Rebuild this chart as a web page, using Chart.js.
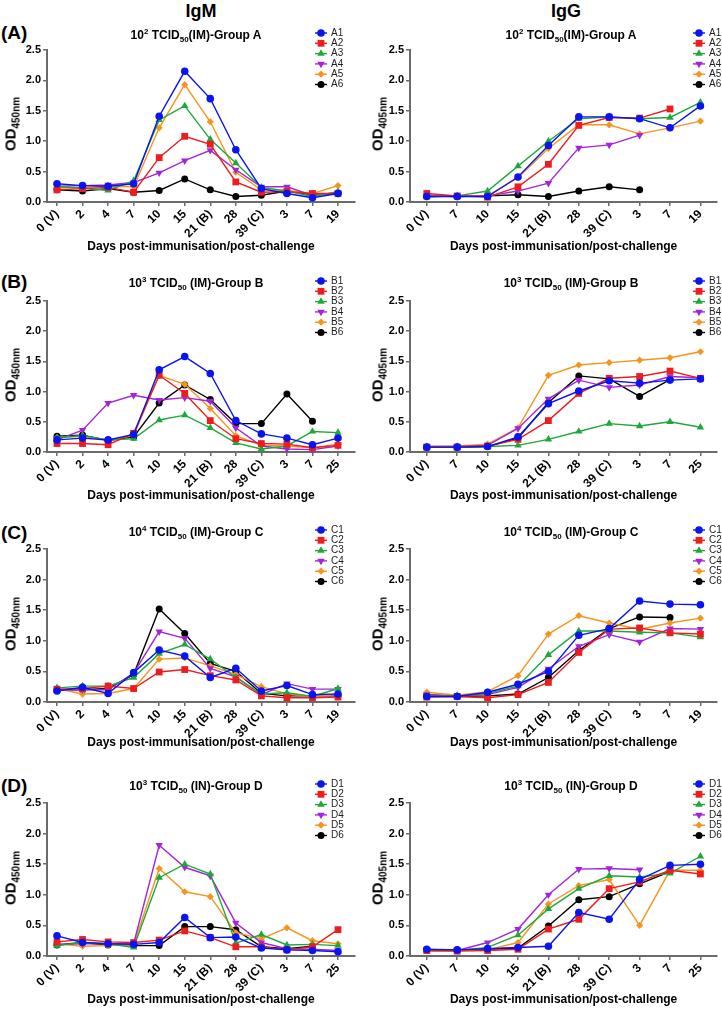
<!DOCTYPE html>
<html>
<head>
<meta charset="utf-8">
<script src="https://cdn.jsdelivr.net/npm/chart.js@4.4.0/dist/chart.umd.min.js"></script>
<style>
body { margin: 0; background: #fff; width: 722px; height: 1009px; position: relative; overflow: hidden;
       font-family: "Liberation Sans", Arial, sans-serif; }
canvas { position: absolute; }
.txt { position: absolute; font-weight: bold; white-space: nowrap; color: #000; transform: translate(-50%, -50%); line-height: 1; }
.txt sup, .txt sub { font-size: 8px; line-height: 0; }
.head { font-size: 18px; }
.tag { font-size: 19px; transform: translate(0, -50%); }
.ptitle { font-size: 12px; }
.od { font-size: 15px; transform: translate(-50%, -50%) rotate(-90deg); }
.od sub { font-size: 10px; }
</style>
</head>
<body>
<script>
// tick labels (days)
var daysIgM_AC = ['0 (V)', '2', '4', '7', '10', '15', '21 (B)', '28', '39 (C)', '3', '7', '19'];
var daysIgM_BD = ['0 (V)', '2', '4', '7', '10', '15', '21 (B)', '28', '39 (C)', '3', '7', '25'];
var daysIgG_AC = ['0 (V)', '7', '10', '15', '21 (B)', '28', '39 (C)', '3', '7', '19'];
var daysIgG_BD = ['0 (V)', '7', '10', '15', '21 (B)', '28', '39 (C)', '3', '7', '25'];
var yTicks = [0, 0.5, 1.0, 1.5, 2.0, 2.5];

var namesA = ['A1', 'A2', 'A3', 'A4', 'A5', 'A6'];
var namesB = ['B1', 'B2', 'B3', 'B4', 'B5', 'B6'];
var namesC = ['C1', 'C2', 'C3', 'C4', 'C5', 'C6'];
var namesD = ['D1', 'D2', 'D3', 'D4', 'D5', 'D6'];

// Group A
var igmA1 = [0.30, 0.27, 0.26, 0.30, 1.41, 2.15, 1.70, 0.86, 0.22, 0.14, 0.07, 0.14];
var igmA2 = [0.20, 0.22, 0.24, 0.16, 0.73, 1.08, 0.95, 0.33, 0.16, 0.17, 0.14, 0.14];
var igmA3 = [0.25, 0.23, 0.19, 0.35, 1.35, 1.58, 1.03, 0.64, 0.24, 0.18, 0.09, 0.17];
var igmA4 = [0.26, 0.27, 0.28, 0.32, 0.48, 0.68, 0.85, 0.53, 0.25, 0.25, 0.11, 0.14];
var igmA5 = [0.23, 0.24, 0.26, 0.25, 1.22, 1.93, 1.32, 0.49, 0.20, 0.19, 0.14, 0.27];
var igmA6 = [0.20, 0.18, 0.22, 0.16, 0.19, 0.38, 0.20, 0.09, 0.11, 0.18, 0.12, 0.15];

var iggA1 = [0.09, 0.09, 0.09, 0.41, 0.93, 1.40, 1.40, 1.37, 1.22, 1.58];
var iggA2 = [0.14, 0.10, 0.08, 0.25, 0.62, 1.26, 1.39, 1.38, 1.53, null];
var iggA3 = [0.08, 0.10, 0.18, 0.59, 1.00, 1.37, 1.40, 1.37, 1.39, 1.64];
var iggA4 = [0.10, 0.09, 0.10, 0.18, 0.31, 0.89, 0.94, 1.10, null, null];
var iggA5 = [0.11, 0.10, 0.10, 0.40, 0.88, 1.27, 1.27, 1.12, 1.22, 1.33];
var iggA6 = [0.10, 0.09, 0.10, 0.12, 0.09, 0.18, 0.25, 0.20, null, null];

// Group B
var igmB1 = [0.20, 0.23, 0.20, 0.29, 1.36, 1.58, 1.30, 0.52, 0.30, 0.23, 0.12, 0.23];
var igmB2 = [0.14, 0.14, 0.12, 0.31, 1.27, 0.97, 0.52, 0.22, 0.14, 0.13, 0.07, 0.11];
var igmB3 = [0.24, 0.27, 0.20, 0.22, 0.53, 0.61, 0.40, 0.15, 0.05, 0.10, 0.34, 0.32];
var igmB4 = [0.20, 0.36, 0.81, 0.94, 0.86, 0.90, 0.84, 0.40, 0.10, 0.05, 0.04, 0.10];
var igmB5 = [0.24, 0.26, 0.20, 0.27, 1.27, 1.12, 0.72, 0.27, 0.11, 0.10, 0.07, 0.13];
var igmB6 = [0.26, 0.28, 0.19, 0.25, 0.81, 1.11, 0.87, 0.47, 0.47, 0.96, 0.51, null];

var iggB1 = [0.08, 0.08, 0.09, 0.25, 0.80, 1.01, 1.18, 1.14, 1.19, 1.21];
var iggB2 = [0.08, 0.08, 0.10, 0.21, 0.52, 0.97, 1.22, 1.25, 1.34, 1.22];
var iggB3 = [0.08, 0.08, 0.09, 0.11, 0.21, 0.34, 0.47, 0.43, 0.50, 0.41];
var iggB4 = [0.09, 0.09, 0.11, 0.39, 0.88, 1.19, 1.07, 1.11, 1.25, 1.23];
var iggB5 = [0.09, 0.10, 0.13, 0.40, 1.27, 1.44, 1.48, 1.52, 1.56, 1.66];
var iggB6 = [0.08, 0.08, 0.09, 0.23, 0.82, 1.26, 1.21, 0.92, 1.20, null];

// Group C
var igmC1 = [0.18, 0.24, 0.14, 0.48, 0.85, 0.75, 0.40, 0.55, 0.18, 0.27, 0.12, 0.13];
var igmC2 = [0.21, 0.22, 0.26, 0.22, 0.49, 0.53, 0.43, 0.36, 0.10, 0.07, 0.07, 0.08];
var igmC3 = [0.23, 0.26, 0.26, 0.40, 0.79, 0.94, 0.70, 0.40, 0.13, 0.15, 0.09, 0.22];
var igmC4 = [0.20, 0.20, 0.20, 0.47, 1.15, 1.04, 0.55, 0.41, 0.12, 0.30, 0.21, 0.21];
var igmC5 = [0.22, 0.13, 0.14, 0.22, 0.70, 0.72, 0.59, 0.45, 0.25, 0.13, 0.09, 0.12];
var igmC6 = [0.20, 0.20, 0.22, 0.45, 1.52, 1.12, 0.63, 0.50, 0.14, 0.10, 0.10, 0.10];

var iggC1 = [0.09, 0.09, 0.16, 0.29, 0.50, 1.09, 1.20, 1.65, 1.60, 1.59];
var iggC2 = [0.08, 0.09, 0.07, 0.12, 0.32, 0.81, 1.19, 1.21, 1.13, 1.11];
var iggC3 = [0.10, 0.10, 0.14, 0.26, 0.77, 1.16, 1.16, 1.14, 1.13, 1.06];
var iggC4 = [0.12, 0.10, 0.12, 0.24, 0.54, 0.91, 1.10, 0.98, 1.20, 1.19];
var iggC5 = [0.16, 0.11, 0.17, 0.43, 1.11, 1.41, 1.29, 1.19, 1.29, 1.37];
var iggC6 = [0.12, 0.09, 0.10, 0.13, 0.40, 0.84, 1.20, 1.39, 1.38, null];

// Group D
var igmD1 = [0.33, 0.22, 0.20, 0.19, 0.22, 0.63, 0.30, 0.31, 0.13, 0.10, 0.09, 0.07];
var igmD2 = [0.23, 0.27, 0.23, 0.22, 0.26, 0.41, 0.30, 0.15, 0.15, 0.10, 0.15, 0.43];
var igmD3 = [0.17, 0.22, 0.20, 0.14, 1.28, 1.50, 1.34, 0.21, 0.35, 0.18, 0.19, 0.17];
var igmD4 = [0.19, 0.20, 0.20, 0.20, 1.81, 1.45, 1.31, 0.54, 0.22, 0.12, 0.11, 0.09];
var igmD5 = [0.20, 0.16, 0.17, 0.18, 1.43, 1.05, 0.97, 0.38, 0.28, 0.46, 0.25, 0.20];
var igmD6 = [0.18, 0.22, 0.18, 0.17, 0.17, 0.48, 0.48, 0.43, 0.15, 0.12, 0.16, null];

var iggD1 = [0.11, 0.10, 0.12, 0.14, 0.16, 0.71, 0.60, 1.25, 1.48, 1.50];
var iggD2 = [0.09, 0.08, 0.09, 0.11, 0.44, 0.60, 1.10, 1.21, 1.40, 1.34];
var iggD3 = [0.08, 0.09, 0.14, 0.34, 0.77, 1.10, 1.31, 1.29, 1.35, 1.63];
var iggD4 = [0.10, 0.09, 0.22, 0.44, 1.00, 1.42, 1.43, 1.41, null, null];
var iggD5 = [0.10, 0.09, 0.10, 0.22, 0.85, 1.15, 1.25, 0.50, 1.40, 1.40];
var iggD6 = [0.10, 0.10, 0.11, 0.13, 0.49, 0.92, 0.97, 1.18, 1.38, null];

// series styles (same order in every panel)
var colors = ['#0a14f0', '#ee1c1c', '#1fa83a', '#a225dc', '#f7941d', '#000000'];
var shapes = ['circle', 'rect', 'triangle', 'triangle', 'rectRot', 'circle'];
var rotations = [0, 0, 0, 180, 0, 0];
var radii = [3.8, 4.8, 4.3, 4.3, 3.6, 3.5];

var FONT = '"Liberation Sans", Arial, sans-serif';
Chart.defaults.font.family = FONT;

var rows = [
  {plotTop: 50, plotBottom: 202, xTitleY: 247, titleY: 35, tag: '(A)', tagY: 32},
  {plotTop: 301, plotBottom: 452, xTitleY: 496, titleY: 283, tag: '(B)', tagY: 281},
  {plotTop: 549, plotBottom: 702, xTitleY: 743, titleY: 532, tag: '(C)', tagY: 532},
  {plotTop: 803, plotBottom: 956, xTitleY: 1000, titleY: 786, tag: '(D)', tagY: 785}
];
var cols = [
  {left: 0, width: 360, axisLeft: 47, axisRight: 355, firstX: 57, lastX: 338, legendX: 321, titleX: 196, odX: 10, od: 'OD<sub>450nm</sub>', head: 'IgM', headX: 201},
  {left: 360, width: 362, axisLeft: 410, axisRight: 721, firstX: 427, lastX: 704, legendX: 699, titleX: 571, odX: 377, od: 'OD<sub>405nm</sub>', head: 'IgG', headX: 566}
];

var panels = [
  {row: 0, col: 0, labels: daysIgM_AC, names: namesA, series: [igmA1, igmA2, igmA3, igmA4, igmA5, igmA6], title: '10<sup>2</sup> TCID<sub>50</sub>(IM)-Group A'},
  {row: 0, col: 1, labels: daysIgG_AC, names: namesA, series: [iggA1, iggA2, iggA3, iggA4, iggA5, iggA6], title: '10<sup>2</sup> TCID<sub>50</sub>(IM)-Group A'},
  {row: 1, col: 0, labels: daysIgM_BD, names: namesB, series: [igmB1, igmB2, igmB3, igmB4, igmB5, igmB6], title: '10<sup>3</sup> TCID<sub>50</sub> (IM)-Group B'},
  {row: 1, col: 1, labels: daysIgG_BD, names: namesB, series: [iggB1, iggB2, iggB3, iggB4, iggB5, iggB6], title: '10<sup>3</sup> TCID<sub>50</sub> (IM)-Group B'},
  {row: 2, col: 0, labels: daysIgM_AC, names: namesC, series: [igmC1, igmC2, igmC3, igmC4, igmC5, igmC6], title: '10<sup>4</sup> TCID<sub>50</sub> (IM)-Group C'},
  {row: 2, col: 1, labels: daysIgG_AC, names: namesC, series: [iggC1, iggC2, iggC3, iggC4, iggC5, iggC6], title: '10<sup>4</sup> TCID<sub>50</sub> (IM)-Group C'},
  {row: 3, col: 0, labels: daysIgM_BD, names: namesD, series: [igmD1, igmD2, igmD3, igmD4, igmD5, igmD6], title: '10<sup>3</sup> TCID<sub>50</sub> (IN)-Group D'},
  {row: 3, col: 1, labels: daysIgG_BD, names: namesD, series: [iggD1, iggD2, iggD3, iggD4, iggD5, iggD6], title: '10<sup>3</sup> TCID<sub>50</sub> (IN)-Group D'}
];

// legend drawn next to the plot, overlapping the top right corner like the original
var sideLegend = {
  id: 'sideLegend',
  afterDraw: function(chart, args, opts) {
    var ctx = chart.ctx;
    ctx.save();
    chart.data.datasets.forEach(function(ds, i) {
      var y = opts.y + i * opts.step;
      ctx.strokeStyle = ds.borderColor;
      ctx.fillStyle = ds.borderColor;
      ctx.lineWidth = 1.4;
      ctx.beginPath();
      ctx.moveTo(opts.x - 6, y);
      ctx.lineTo(opts.x + 6, y);
      ctx.stroke();
      Chart.helpers.drawPoint(ctx, {pointStyle: ds.pointStyle, rotation: ds.pointRotation, radius: ds.pointRadius, borderWidth: 0}, opts.x, y);
      ctx.fillStyle = '#222';
      ctx.font = '10px ' + FONT;
      ctx.textBaseline = 'middle';
      ctx.textAlign = 'left';
      ctx.fillText(ds.label, opts.x + 10, y);
    });
    ctx.restore();
  }
};

function addText(cls, html, x, y) {
  var d = document.createElement('div');
  d.className = 'txt ' + cls;
  d.innerHTML = html;
  d.style.left = x + 'px';
  d.style.top = y + 'px';
  document.body.appendChild(d);
}

cols.forEach(function(c) { addText('head', c.head, c.headX, 11); });
rows.forEach(function(r) { addText('tag', r.tag, 1, r.tagY); });

panels.forEach(function(p) {
  var r = rows[p.row], c = cols[p.col];
  var top = r.plotTop - 26, bottom = r.xTitleY + 9;
  var cv = document.createElement('canvas');
  cv.width = c.width;
  cv.height = bottom - top;
  cv.style.left = c.left + 'px';
  cv.style.top = top + 'px';
  document.body.appendChild(cv);

  var n = p.labels.length;
  var step = (c.lastX - c.firstX) / (n - 1);
  var labels = p.labels;
  var xh = bottom - r.plotBottom;
  var yw = c.axisLeft - c.left;

  var datasets = p.series.map(function(s, i) {
    return {
      label: p.names[i],
      data: s.map(function(v, j) { return {x: j, y: v}; }),
      borderColor: colors[i],
      backgroundColor: colors[i],
      pointBackgroundColor: colors[i],
      borderWidth: 1.4,
      pointStyle: shapes[i],
      pointRotation: rotations[i],
      pointRadius: radii[i],
      pointBorderWidth: 0,
      tension: 0,
      spanGaps: false,
      clip: false
    };
  });

  new Chart(cv.getContext('2d'), {
    type: 'line',
    data: {datasets: datasets},
    options: {
      responsive: false,
      animation: false,
      layout: {padding: {top: 26, bottom: 0, left: 0, right: c.width - (c.axisRight - c.left)}},
      plugins: {
        legend: {display: false},
        tooltip: {enabled: false},
        sideLegend: {x: c.legendX - c.left, y: r.titleY - 2 - top, step: 10.3}
      },
      scales: {
        x: {
          type: 'linear',
          min: -(c.firstX - c.axisLeft) / step,
          max: (c.axisRight - c.firstX) / step,
          afterBuildTicks: function(s) { s.ticks = labels.map(function(l, i) { return {value: i}; }); },
          afterFit: function(s) { s.height = xh; },
          ticks: {
            autoSkip: false, maxRotation: 45, minRotation: 45, padding: 1, color: '#000',
            font: {size: 12, weight: 'bold'},
            callback: function(v) { return labels[v]; }
          },
          grid: {drawOnChartArea: false, drawTicks: true, tickLength: 4, color: '#6b6b6b', lineWidth: 1.5},
          border: {color: '#6b6b6b', width: 2},
          title: {display: true, text: 'Days post-immunisation/post-challenge', color: '#000',
                  font: {size: 12, weight: 'bold'}, padding: {top: 0, bottom: 1.8}}
        },
        y: {
          min: 0, max: 2.5,
          afterBuildTicks: function(s) { s.ticks = yTicks.map(function(v) { return {value: v}; }); },
          afterFit: function(s) { s.width = yw; },
          ticks: {
            padding: 2, color: '#000', font: {size: 11, weight: 'bold'},
            callback: function(v) { return v.toFixed(1); }
          },
          grid: {drawOnChartArea: false, drawTicks: true, tickLength: 4, color: '#6b6b6b', lineWidth: 1.5},
          border: {color: '#6b6b6b', width: 2}
        }
      }
    },
    plugins: [sideLegend]
  });

  addText('ptitle', p.title, c.titleX, r.titleY);
  addText('od', c.od, c.odX, (r.plotTop + r.plotBottom) / 2 - 2);
});
</script>
</body>
</html>
